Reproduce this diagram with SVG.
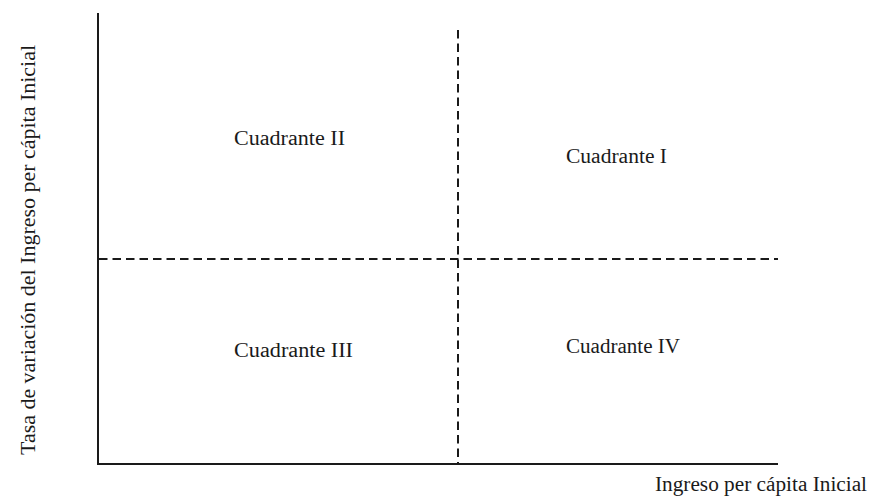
<svg xmlns="http://www.w3.org/2000/svg" width="870" height="500" viewBox="0 0 870 500">
<style>
.axis{stroke:#1a1a1a;stroke-width:2;fill:none}
.dash{stroke:#1a1a1a;stroke-width:2;fill:none;stroke-dasharray:8.5 5}
.lbl{font-family:"Liberation Serif","Times New Roman",serif;font-size:20px;fill:#1a1a1a}
</style>
<rect width="870" height="500" fill="#ffffff"/>
<g id="connectors">
<path class="axis" d="M98 13 V464 H778"/>
<line class="dash" x1="458" y1="30" x2="458" y2="463"/>
<line class="dash" x1="99" y1="259" x2="778" y2="259"/>
</g>
<g id="q2"><text class="lbl" x="234" y="145" textLength="111" lengthAdjust="spacingAndGlyphs">Cuadrante II</text></g>
<g id="q1"><text class="lbl" x="566" y="163" textLength="101" lengthAdjust="spacingAndGlyphs">Cuadrante I</text></g>
<g id="q3"><text class="lbl" x="234" y="357" textLength="119" lengthAdjust="spacingAndGlyphs">Cuadrante III</text></g>
<g id="q4"><text class="lbl" x="566" y="353" textLength="114" lengthAdjust="spacingAndGlyphs">Cuadrante IV</text></g>
<g id="xlabel"><text class="lbl" x="655" y="491" textLength="212" lengthAdjust="spacingAndGlyphs">Ingreso per cápita Inicial</text></g>
<g id="ylabel"><text class="lbl" transform="translate(35 455) rotate(-90)" x="0" y="0" textLength="410" lengthAdjust="spacingAndGlyphs">Tasa de variación del Ingreso per cápita Inicial</text></g>
</svg>
